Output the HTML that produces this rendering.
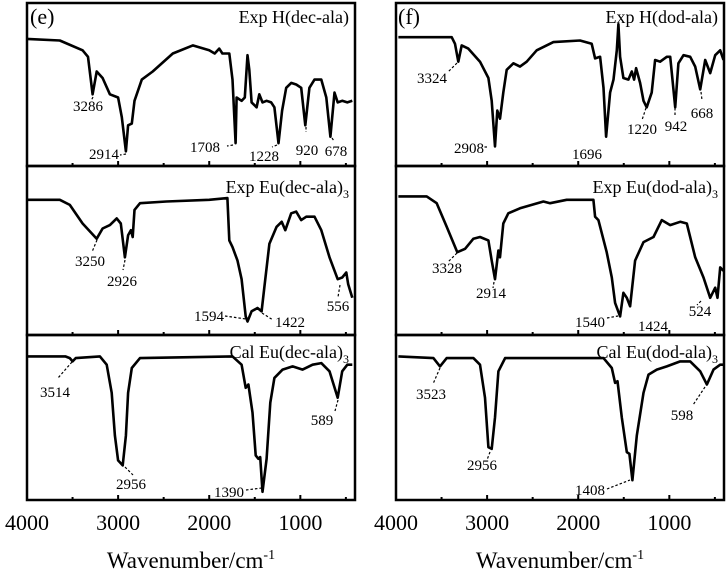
<!DOCTYPE html>
<html><head><meta charset="utf-8"><style>
html,body{margin:0;padding:0;background:#fff;}
svg{display:block;font-family:"Liberation Serif",serif;}
svg text{font-family:"Liberation Serif",serif;}
</style></head><body>
<svg id="chart" width="726" height="578" viewBox="0 0 726 578" font-family="Liberation Serif, serif"></svg>
<script>
// ---- data (wavenumber cm-1, transmittance %) ----
const L1_wn=[4000,3640,3390,3330,3280,3235,3170,3090,3000,2960,2915,2890,2850,2820,2740,2620,2400,2180,2000,1940,1890,1855,1780,1745,1710,1700,1645,1610,1580,1560,1535,1480,1450,1415,1370,1320,1285,1240,1200,1155,1100,1045,990,945,900,845,770,715,670,625,590,540,485,430];
const L1_T=[78,77,71,67,44,58,54,44,42,30,9,25,26,40,53,58,69,74,71,69,72,69,69,53,14,42,40,42,68,59,39,36,44,39,40,39,36,14,34,48,51,50,48,25,48,53,53,42,18,45,39,40,39,40];
const L2_wn=[4000,3640,3530,3390,3235,3170,3090,3015,2970,2925,2890,2860,2840,2820,2760,2470,2000,1800,1780,1745,1690,1645,1600,1580,1535,1470,1425,1395,1340,1260,1205,1165,1100,1045,990,935,845,770,680,590,540,495,475,430];
const L2_T=[80,80,77,66,57,63,65,69,66,46,59,62,58,74,78,79,80,81,56,52,44,33,11,8,14,16,14,28,54,64,67,62,72,73,68,70,70,62,46,33,34,37,30,22];
const L3_wn=[4000,3580,3530,3500,3465,3200,3125,3070,3035,3000,2950,2915,2890,2850,2760,1745,1645,1600,1570,1525,1490,1460,1440,1415,1370,1330,1285,1195,1085,975,865,770,680,590,540,485,430];
const L3_T=[87,87,86,84,86,87,82,65,39,24,21,39,65,80,86,87,82,68,70,53,27,25,26,5,25,59,74,79,81,79,82,83,78,62,78,82,82];
const R1_wn=[3974,3389,3352,3316,3279,3206,3078,2986,2950,2913,2888,2858,2822,2785,2712,2639,2565,2456,2272,1980,1852,1815,1760,1723,1694,1650,1613,1577,1559,1540,1504,1449,1412,1387,1365,1321,1284,1248,1193,1156,1101,1028,991,936,900,844,771,716,661,606,551,497,442,406];
const R1_T=[79,79,75,64,74,72,64,54,40,12,34,29,45,59,63,61,64,71,76,77,75,66,67,48,18,45,53,71,87,67,54,53,58,53,60,51,40,36,45,65,64,67,67,36,63,68,67,61,47,65,57,68,71,65];
const R2_wn=[3974,3663,3553,3444,3327,3242,3151,3078,2986,2950,2913,2876,2858,2822,2767,2639,2382,2309,2126,1833,1815,1778,1687,1632,1595,1540,1504,1467,1431,1376,1284,1174,1083,991,881,808,716,625,551,497,471,442,406];
const R2_T=[82,82,78,64,49,51,57,58,56,44,33,50,46,66,72,75,79,78,80,80,70,68,49,34,19,11,25,22,17,44,55,58,68,65,67,66,46,34,22,28,22,40,38];
const R3_wn=[3974,3590,3517,3444,3151,3078,3023,2986,2950,2913,2876,2803,1723,1632,1595,1569,1522,1467,1438,1405,1357,1284,1229,1138,1028,881,771,661,588,515,442,406];
const R3_T=[87,86,81,86,86,82,62,32,31,50,78,86,86,80,71,72,50,29,28,12,39,65,76,79,81,84,84,78,70,79,82,82];
const majorTicks=[4000,3000,2000,1000];
const minorTicks=[3500,2500,1500,500];
const tickLabels=["4000","3000","2000","1000"];

const NS="http://www.w3.org/2000/svg";
const svg=document.getElementById('chart');
const FONT='Liberation Serif, serif';
function mk(tag,attrs,parent){const e=document.createElementNS(NS,tag);for(const k in attrs)e.setAttribute(k,attrs[k]);if(tag==='text')e.setAttribute('font-family',FONT);(parent||svg).appendChild(e);return e;}

const cols=[{x0:27,x1:355,name:'left'},{x0:396,x1:724,name:'right'}];
const rows=[{y0:3,y1:166},{y0:166,y1:335},{y0:335,y1:500}];
function xScale(col,wn){return col.x0+(4000-wn)/(4000-400)*(col.x1-col.x0);}
function yScale(row,t){return row.y1-t/100*(row.y1-row.y0);}

const series=[
 [0,0,L1_wn,L1_T,'exp-h-dec-ala-line'],[0,1,L2_wn,L2_T,'exp-eu-dec-ala-line'],[0,2,L3_wn,L3_T,'cal-eu-dec-ala-line'],
 [1,0,R1_wn,R1_T,'exp-h-dod-ala-line'],[1,1,R2_wn,R2_T,'exp-eu-dod-ala-line'],[1,2,R3_wn,R3_T,'cal-eu-dod-ala-line']];
series.forEach(s=>{
  const c=cols[s[0]],r=rows[s[1]];
  const pts=s[2].map((w,i)=>xScale(c,w).toFixed(1)+','+yScale(r,s[3][i]).toFixed(1)).join(' ');
  const p=mk('polyline',{points:pts,fill:'none',stroke:'#000','stroke-width':2.6,'stroke-linejoin':'round'});
  
  
});

cols.forEach(c=>{
  rows.forEach((r,ri)=>{
    const f=mk('rect',{x:c.x0,y:r.y0,width:c.x1-c.x0,height:r.y1-r.y0,fill:'none',stroke:'#000','stroke-width':2.5});
    
    
    majorTicks.forEach(t=>{const x=xScale(c,t);mk('line',{x1:x,x2:x,y1:r.y1,y2:r.y1-5,stroke:'#000','stroke-width':2});});
    minorTicks.forEach(t=>{const x=xScale(c,t);mk('line',{x1:x,x2:x,y1:r.y1,y2:r.y1-3,stroke:'#000','stroke-width':2});});
  });
  majorTicks.forEach((t,i)=>{
    const tx=mk('text',{x:xScale(c,t),y:530,'font-size':22,'text-anchor':'middle'});
    tx.textContent=tickLabels[i];
    
    
  });
  const xt=mk('text',{x:(c.x0+c.x1)/2,y:568,'font-size':23,'text-anchor':'middle'});
  xt.innerHTML='Wavenumber/cm<tspan dy="-9" font-size="14">-1</tspan>';
  
  
});

const titles=[[349,23,'Exp H(dec-ala)',''],[349,193,'Exp Eu(dec-ala)','3'],[349,358,'Cal Eu(dec-ala)','3'],
 [718,23,'Exp H(dod-ala)',''],[718,193,'Exp Eu(dod-ala)','3'],[718,358,'Cal Eu(dod-ala)','3']];
titles.forEach(t=>{
  const e=mk('text',{x:t[0],y:t[1],'font-size':18,'text-anchor':'end'});
  e.innerHTML=t[2]+(t[3]?'<tspan dy="5" font-size="12">'+t[3]+'</tspan>':'');
  
  
});
[[30,24,'(e)'],[398,24,'(f)']].forEach(t=>{
  const e=mk('text',{x:t[0],y:t[1],'font-size':22});e.textContent=t[2];
  
  
});

const ann=[
 ['3286',88,111,93,97,91,101],['2914',104,159,126,154,120,155],['1708',205,152,233,145,227,146],['1228',264,161,277,145,272,147],['920',307,155,306,127,306,132],['678',336,156,332,138,334,141],
 ['3250',90,266,97,240,92,252],['2926',122,286,125,260,123,270],['1594',209,321,225,316,246,319],['1422',290,327,262,313,273,320],['556',338,311,340,285,338,297],
 ['3514',55,397,72,362,58,378],['2956',131,489,125,467,133,475],['1390',229,497,246,490,262,488],['589',322,425,338,400,335,411],
 ['3324',432,83,457,63,448,72],['2908',469,153,487,147,484,147],['1696',587,159,0,0,0,0],['1220',642,134,646,108,642,120],['942',676,131,675,108,675,115],['668',702,118,701,92,702,100],
 ['3328',447,273,457,253,448,262],['2914',491,298,494,282,493,288],['1540',590,327,607,318,618,316],['1424',653,331,0,0,0,0],['524',700,316,701,301,697,305],
 ['3523',431,399,440,368,433,384],['2956',482,470,490,452,487,460],['1408',590,495,607,489,630,480],['598',682,420,705,387,693,405]];
ann.forEach(a=>{
  const t=mk('text',{x:a[1],y:a[2],'font-size':15,'text-anchor':'middle'});t.textContent=a[0];
  
  
  if(a[3]){const l=mk('line',{x1:a[3],y1:a[4],x2:a[5],y2:a[6],stroke:'#000','stroke-width':1.2,'stroke-dasharray':'2.5,2'});
    
    }
});
</script>
</body></html>
